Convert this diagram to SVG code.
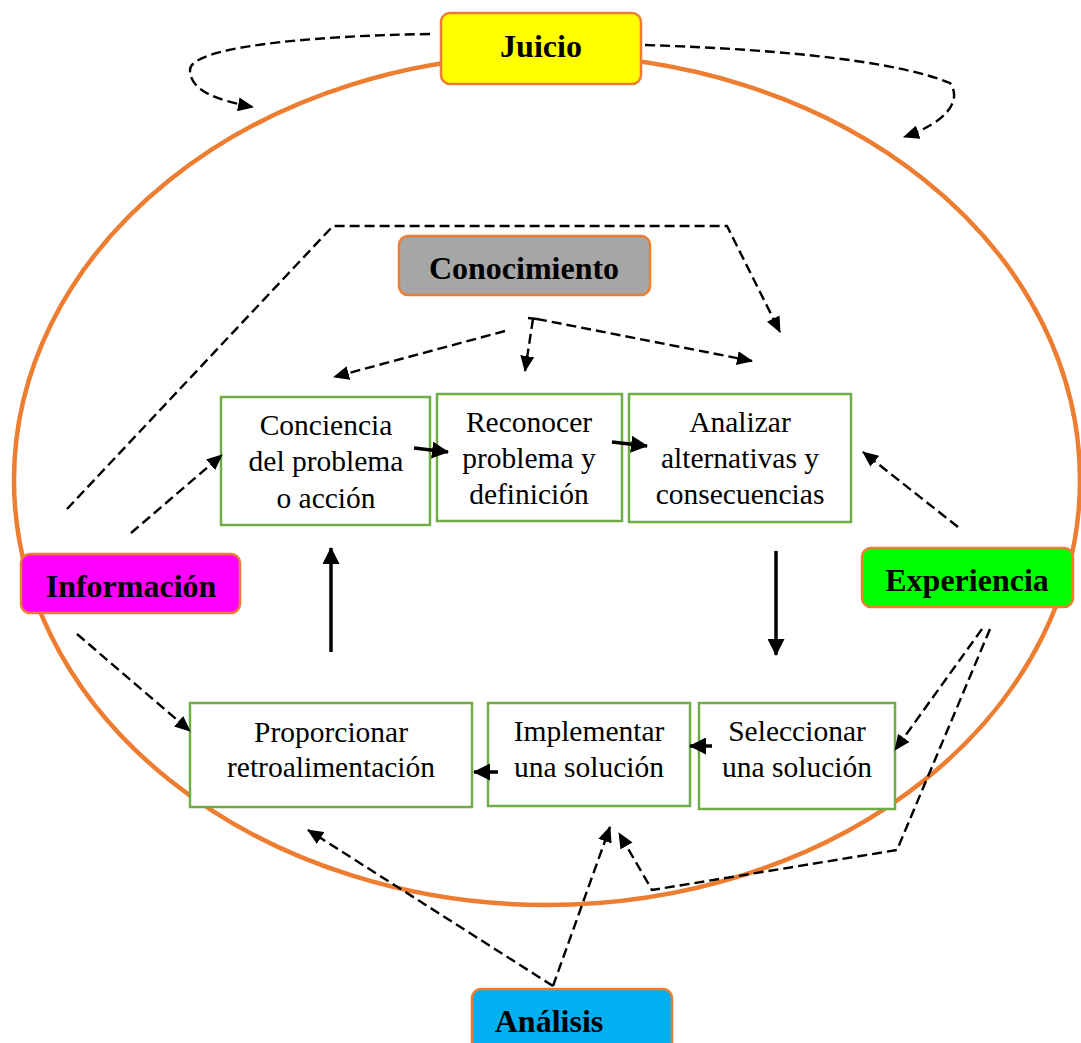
<svg xmlns="http://www.w3.org/2000/svg" width="1081" height="1043" viewBox="0 0 1081 1043">
<style>
.lbl{stroke:#ED7D31;stroke-width:2.5}
.step{fill:#fff;stroke:#70AD47;stroke-width:2.5}
.bt{font-family:"Liberation Serif","Times New Roman",serif;font-weight:bold;font-size:32px;fill:#000;text-anchor:middle}
.rt{font-family:"Liberation Serif","Times New Roman",serif;font-size:29.5px;fill:#000;text-anchor:middle}
.solid{fill:none;stroke:#000;stroke-width:3.5}
.dash{fill:none;stroke:#000;stroke-width:2.4;stroke-dasharray:10 5}
</style>
<defs>
<marker id="ah" markerUnits="userSpaceOnUse" viewBox="0 0 16 14" refX="15" refY="7" markerWidth="16" markerHeight="14" orient="auto">
<path d="M0,0 L16,7 L0,14 z" fill="#000"/>
</marker>
<marker id="as" markerUnits="userSpaceOnUse" viewBox="0 0 17 17" refX="16" refY="8.5" markerWidth="17" markerHeight="17" orient="auto">
<path d="M0,0 L17,8.5 L0,17 z" fill="#000"/>
</marker>
</defs>

<ellipse cx="547" cy="480" rx="533" ry="425" fill="none" stroke="#ED7D31" stroke-width="4.5"/>

<g id="juicio">
<rect class="lbl" x="441" y="13" width="200" height="71" rx="9" fill="#FFFF00"/>
<text class="bt" x="541" y="57">Juicio</text>
</g>
<g id="conocimiento">
<rect class="lbl" x="399" y="236" width="251" height="59" rx="9" fill="#A6A6A6"/>
<text class="bt" x="524" y="279">Conocimiento</text>
</g>
<g id="informacion">
<rect class="lbl" x="21" y="554" width="219" height="59" rx="9" fill="#FF00FF"/>
<text class="bt" x="131" y="597">Información</text>
</g>
<g id="experiencia">
<rect class="lbl" x="862" y="548" width="211" height="59" rx="9" fill="#00FF00"/>
<text class="bt" x="967" y="591">Experiencia</text>
</g>
<g id="analisis">
<rect class="lbl" x="472" y="989" width="200" height="70" rx="9" fill="#00B0F0"/>
<text class="bt" x="549" y="1032">Análisis</text>
</g>

<g id="conciencia">
<rect class="step" x="221" y="397" width="209" height="128"/>
<text class="rt" x="326" y="435">Conciencia</text>
<text class="rt" x="326" y="471">del problema</text>
<text class="rt" x="326" y="508">o acción</text>
</g>
<g id="reconocer">
<rect class="step" x="437" y="394" width="185" height="127"/>
<text class="rt" x="529" y="432">Reconocer</text>
<text class="rt" x="529" y="468">problema y</text>
<text class="rt" x="529" y="504">definición</text>
</g>
<g id="analizar">
<rect class="step" x="629" y="394" width="222" height="128"/>
<text class="rt" x="740" y="432">Analizar</text>
<text class="rt" x="740" y="468">alternativas y</text>
<text class="rt" x="740" y="504">consecuencias</text>
</g>
<g id="seleccionar">
<rect class="step" x="699" y="703" width="196" height="106"/>
<text class="rt" x="797" y="741">Seleccionar</text>
<text class="rt" x="797" y="777">una solución</text>
</g>
<g id="implementar">
<rect class="step" x="488" y="703" width="202" height="103"/>
<text class="rt" x="589" y="741">Implementar</text>
<text class="rt" x="589" y="777">una solución</text>
</g>
<g id="proporcionar">
<rect class="step" x="190" y="703" width="282" height="104"/>
<text class="rt" x="331" y="742">Proporcionar</text>
<text class="rt" x="331" y="777">retroalimentación</text>
</g>

<g id="connectors">
<path class="dash" d="M430 34 C300 36 190 48 190 70 C190 90 215 100 253 107" marker-end="url(#ah)"/>
<path class="dash" d="M645 45 C800 50 900 63 950 83 C962 100 948 122 904 137" marker-end="url(#ah)"/>
<path class="dash" d="M67 509 L333 226 L727 226 L780 332" marker-end="url(#ah)"/>
<path class="dash" d="M505 331 L334 377" marker-end="url(#ah)"/>
<path class="dash" d="M528 318 L537 319 M533 319 L525 371" marker-end="url(#ah)"/>
<path class="dash" d="M537 319 L752 361" marker-end="url(#ah)"/>
<path class="dash" d="M131 533 L222 455" marker-end="url(#ah)"/>
<path class="dash" d="M77 634 L190 731" marker-end="url(#ah)"/>
<path class="dash" d="M958 527 L863 452" marker-end="url(#ah)"/>
<path class="dash" d="M982 629 L895 750" marker-end="url(#ah)"/>
<path class="dash" d="M990 629 L897 850 L652 890 L619 833" marker-end="url(#ah)"/>
<path class="dash" d="M553 986 L308 830" marker-end="url(#ah)"/>
<path class="dash" d="M553 986 L610 827" marker-end="url(#ah)"/>
<path class="solid" d="M414 448 L448 452" marker-end="url(#as)"/>
<path class="solid" d="M612 442 L647 446" marker-end="url(#as)"/>
<path class="solid" d="M776 551 L776 655" marker-end="url(#as)"/>
<path class="solid" d="M712 746 L690 746" marker-end="url(#as)"/>
<path class="solid" d="M498 772 L474 772" marker-end="url(#as)"/>
<path class="solid" d="M331 652 L331 548" marker-end="url(#as)"/>
</g>
</svg>
